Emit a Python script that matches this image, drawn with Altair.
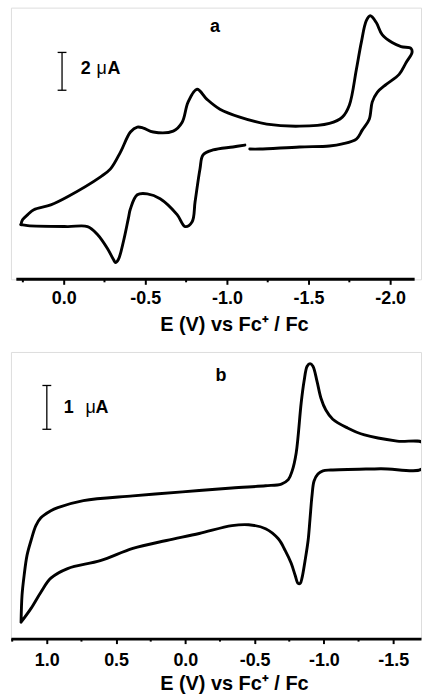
import altair as alt
import pandas as pd

FONT = "Liberation Sans"
AXIS_TITLE = "E (V) vs Fc\u207a / Fc"

# ---------------- Panel a (E in V vs Fc+/Fc, I in uA, arbitrary offset) ----------------
a1_E = [0.262, 0.252, 0.220, 0.183, 0.079, -0.024, -0.226, -0.287, -0.348, -0.409, -0.451,
        -0.488, -0.549, -0.671, -0.726, -0.762, -0.817, -0.878, -0.957, -1.079, -1.244,
        -1.445, -1.628, -1.707, -1.750, -1.793, -1.823, -1.854, -1.878, -1.915, -1.951,
        -2.012, -2.067, -2.128, -2.134, -2.098, -2.055, -1.976, -1.921, -1.890, -1.872,
        -1.829, -1.793, -1.707, -1.628, -1.445, -1.201, -1.140]
a1_I = [2.84, 3.10, 3.37, 3.63, 3.89, 4.32, 5.37, 5.79, 6.68, 7.74, 8.00,
        7.95, 7.74, 7.79, 8.26, 9.32, 10.00, 9.47, 8.95, 8.53, 8.16,
        8.05, 8.20, 8.53, 9.16, 11.05, 12.47, 13.63, 13.89, 13.53, 12.89,
        12.47, 12.26, 12.16, 11.95, 11.42, 10.79, 10.26, 9.84, 9.32, 8.42,
        7.84, 7.37, 7.11, 7.00, 6.95, 6.84, 6.84]
a2_E = [-1.110, -1.037, -0.915, -0.854, -0.835, -0.805, -0.787, -0.744, -0.695, -0.591,
        -0.512, -0.451, -0.409, -0.396, -0.366, -0.335, -0.317, -0.305, -0.268, -0.207,
        -0.146, -0.024, 0.220, 0.262]
a2_I = [7.05, 6.95, 6.79, 6.53, 5.79, 4.05, 3.00, 2.74, 3.37, 4.21,
        4.47, 4.42, 3.68, 3.16, 1.95, 1.00, 0.84, 1.00, 1.58, 2.32,
        2.74, 2.74, 2.79, 2.84]
a_major = [0.0, -0.5, -1.0, -1.5, -2.0]
a_minor = [0.25, -0.25, -0.75, -1.25, -1.75]
a_xdomain = [-2.189, 0.323]
a_axis_span = [0.29, -2.15]
a_ydomain = [-0.05, 14.32]
a_bar_E = 0.01
a_bar_I = [9.95, 11.95]          # 2 uA
a_bar_parts = ["2", "\u03bc", "A"]
a_bar_parts_E = [-0.104, -0.201, -0.268]
a_bar_parts_bold = [True, False, True]
a_bar_text_I = 11.05
a_title = "a"
a_title_pos = [-0.927, 13.02]

# ---------------- Panel b ----------------
b_up_E = [1.186, 1.179, 1.164, 1.143, 1.114, 1.079, 1.043, 0.971, 0.921, 0.736, 0.379,
          0.021, -0.336, -0.579, -0.693, -0.743, -0.771, -0.800, -0.836, -0.857, -0.879,
          -0.900, -0.921, -0.950, -0.979, -1.014, -1.064, -1.171, -1.293, -1.529, -1.720]
b_up_I = [0.375, 0.99, 1.44, 1.90, 2.24, 2.58, 2.76, 2.92, 2.99, 3.15, 3.26,
          3.35, 3.44, 3.49, 3.53, 3.63, 3.83, 4.24, 5.38, 5.88, 6.22,
          6.28, 6.22, 5.88, 5.49, 5.22, 5.01, 4.81, 4.65, 4.51, 4.46]
b_dn_E = [-1.720, -1.407, -1.050, -0.993, -0.957, -0.929, -0.914, -0.900, -0.886, -0.864,
          -0.843, -0.829, -0.814, -0.793, -0.764, -0.721, -0.671, -0.579, -0.457, -0.336,
          -0.100, 0.136, 0.379, 0.614, 0.850, 0.971, 1.043, 1.114, 1.186]
b_dn_I = [3.90, 3.88, 3.85, 3.83, 3.76, 3.60, 3.26, 2.74, 2.24, 1.78,
          1.40, 1.26, 1.26, 1.44, 1.72, 2.01, 2.28, 2.51, 2.60, 2.58,
          2.40, 2.24, 2.06, 1.78, 1.60, 1.38, 1.06, 0.69, 0.375]
b_major = [1.0, 0.5, 0.0, -0.5, -1.0, -1.5]
b_minor = [1.25, 0.75, 0.25, -0.25, -0.75, -1.25]
b_xdomain = [-1.701, 1.259]
b_ydomain = [0.0, 6.545]
b_bar_E = 1.0
b_bar_I = [4.78, 5.78]           # 1 uA
b_bar_parts = ["1", "\u03bc", "A"]
b_bar_parts_E = [0.878, 0.720, 0.648]
b_bar_parts_bold = [True, False, True]
b_bar_text_I = 5.26
b_title = "b"
b_title_pos = [-0.257, 5.875]

LABEL_EXPR = "(datum.value < 0 ? '-' : '') + format(abs(datum.value), '.1f')"


def panel(segments, major, minor, xdomain, ydomain, width, height, bar_E, bar_I, cap_half,
          parts, parts_E, parts_bold, text_I, title, title_pos, label_pad, title_y,
          draw_domain, axis_span=None):
    rows = []
    for s, (es, is_) in enumerate(segments):
        for k, (e, i) in enumerate(zip(es, is_)):
            rows.append({"E": e, "I": i, "seg": str(s), "idx": k})
    curve_df = pd.DataFrame(rows)

    axis = alt.Axis(
        values=major, labelExpr=LABEL_EXPR, grid=False,
        domain=draw_domain, domainColor="black", domainWidth=3,
        ticks=True, tickSize=5, tickWidth=2, tickColor="black",
        labelFont=FONT, labelFontSize=18, labelFontWeight="bold", labelColor="black",
        labelPadding=label_pad, labelFlush=False, labelOverlap=False, labelBound=False,
        title=AXIS_TITLE, titleFont=FONT, titleFontSize=20, titleFontWeight="bold",
        titleColor="black", titleBaseline="alphabetic", titleY=title_y, titleX=224,
        titleAlign="center",
    )
    x = alt.X("E:Q", scale=alt.Scale(domain=xdomain, reverse=True, nice=False, zero=False),
              axis=axis)
    y = alt.Y("I:Q", scale=alt.Scale(domain=ydomain, nice=False, zero=False), axis=None)

    line = alt.Chart(curve_df).mark_line(
        color="black", strokeWidth=2.9, strokeJoin="round", strokeCap="round",
        interpolate="catmull-rom", clip=True
    ).encode(x=x, y=y, detail="seg:N", order="idx:Q")

    minor_df = pd.DataFrame({"E": minor})
    minor_ticks = alt.Chart(minor_df).mark_rule(color="black", strokeWidth=2).encode(
        x=x, y=alt.value(height), y2=alt.value(height + 3))

    bar_df = pd.DataFrame({"E": [bar_E], "I": [bar_I[0]], "I2": [bar_I[1]]})
    bar = alt.Chart(bar_df).mark_rule(color="black", strokeWidth=1.3).encode(
        x=x, y=y, y2="I2:Q")
    caps_df = pd.DataFrame({"E": [bar_E + cap_half] * 2, "E2": [bar_E - cap_half] * 2,
                            "I": bar_I})
    caps = alt.Chart(caps_df).mark_rule(color="black", strokeWidth=1.3).encode(
        x=x, x2="E2:Q", y=y)

    layers = [line, minor_ticks, bar, caps]
    for bold in (True, False):
        sel = [(t, e) for t, e, b in zip(parts, parts_E, parts_bold) if b == bold]
        tdf = pd.DataFrame({"E": [e for _, e in sel], "I": [text_I] * len(sel),
                            "t": [t for t, _ in sel]})
        layers.append(alt.Chart(tdf).mark_text(
            font=FONT, fontSize=18, fontWeight="bold" if bold else "normal", color="black",
            align="left", baseline="middle").encode(x=x, y=y, text="t:N"))

    ttl_df = pd.DataFrame({"E": [title_pos[0]], "I": [title_pos[1]], "t": [title]})
    layers.append(alt.Chart(ttl_df).mark_text(
        font=FONT, fontSize=18, fontWeight="bold", color="black", align="center",
        baseline="alphabetic").encode(x=x, y=y, text="t:N"))

    if axis_span is not None:
        dom_df = pd.DataFrame({"E": [axis_span[0]], "E2": [axis_span[1]], "I": [ydomain[0]]})
        layers.append(alt.Chart(dom_df).mark_rule(color="black", strokeWidth=3).encode(
            x=x, x2="E2:Q", y=y))
    return alt.layer(*layers).properties(width=width, height=height)


chart_a = panel([(a1_E, a1_I), (a2_E, a2_I)], a_major, a_minor, a_xdomain, a_ydomain,
                412, 273, a_bar_E, a_bar_I, 0.027, a_bar_parts, a_bar_parts_E,
                a_bar_parts_bold, a_bar_text_I, a_title, a_title_pos,
                label_pad=5, title_y=51.5, draw_domain=False, axis_span=a_axis_span)
chart_b = panel([(b_up_E + b_dn_E, b_up_I + b_dn_I)], b_major, b_minor, b_xdomain, b_ydomain,
                412, 288, b_bar_E, b_bar_I, 0.032, b_bar_parts, b_bar_parts_E,
                b_bar_parts_bold, b_bar_text_I, b_title, b_title_pos,
                label_pad=8, title_y=51, draw_domain=True)

chart = alt.vconcat(chart_a, chart_b, spacing=16).properties(
    padding={"left": 10, "top": 5, "right": 0, "bottom": 0}
).configure_view(stroke=None).configure(background="white")

chart.save("out.html", embed_options={"renderer": "svg", "actions": False})
